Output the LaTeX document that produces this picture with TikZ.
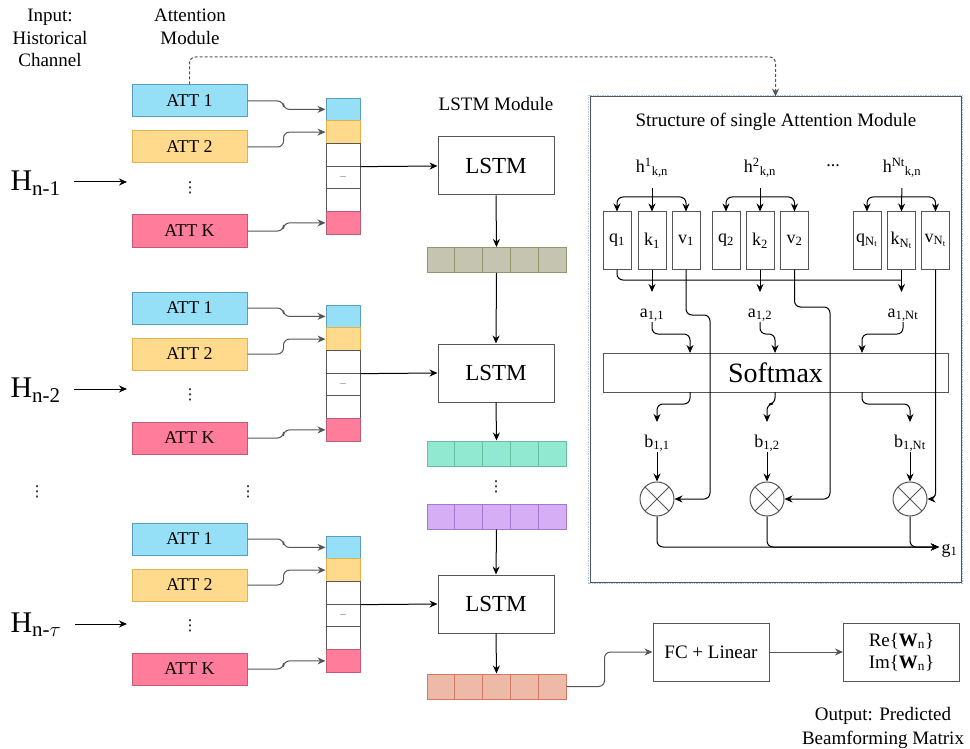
\documentclass[tikz,border=0pt]{standalone}
\usepackage{fontspec}
\setmainfont{Liberation Serif}
\newfontfamily\dotfont{DejaVu Sans}
\usetikzlibrary{arrows.meta}

\definecolor{attcyan}{RGB}{150,224,247}
\definecolor{attcyanb}{RGB}{90,160,190}
\definecolor{attyel}{RGB}{255,218,140}
\definecolor{attyelb}{RGB}{225,178,80}
\definecolor{attpink}{RGB}{255,125,155}
\definecolor{attpinkb}{RGB}{195,90,115}
\definecolor{vecolive}{RGB}{196,196,176}
\definecolor{vecoliveb}{RGB}{150,150,110}
\definecolor{vecgreen}{RGB}{145,233,210}
\definecolor{vecgreenb}{RGB}{105,190,160}
\definecolor{vecpurple}{RGB}{214,174,246}
\definecolor{vecpurpleb}{RGB}{165,120,205}
\definecolor{vecorange}{RGB}{238,186,168}
\definecolor{vecorangeb}{RGB}{215,120,100}
\definecolor{linegray}{RGB}{85,85,85}
\definecolor{selblue}{RGB}{160,200,240}

\begin{document}
\begin{tikzpicture}[x=1pt,y=-1pt,line width=1pt,
  att/.style={draw,minimum width=115pt,minimum height=32pt,inner sep=0pt,font=\fontsize{18}{20}\selectfont},
  cell/.style={draw=linegray,minimum width=34pt,minimum height=22.7pt,inner sep=0pt},
  vcell/.style={minimum width=27.8pt,minimum height=25pt,inner sep=0pt},
  box/.style={draw=linegray,minimum width=116pt,minimum height=58pt,inner sep=0pt},
  qkv/.style={draw=linegray,minimum width=28pt,minimum height=57pt,inner sep=0pt,font=\fontsize{18}{20}\selectfont},
  lab/.style={font=\fontsize{19}{22.5}\selectfont,align=center,inner sep=0pt},
  sml/.style={font=\fontsize{18}{20}\selectfont,inner sep=0pt},
  hlab/.style={font=\fontsize{30}{32}\selectfont,inner sep=0pt,anchor=base west},
  vdot/.style={font=\dotfont\fontsize{15}{16}\selectfont,inner sep=0pt},
  mul/.style={circle,draw=linegray,minimum size=34pt,inner sep=0pt,
    path picture={\draw[linegray] (path picture bounding box.north west) -- (path picture bounding box.south east)
      (path picture bounding box.north east) -- (path picture bounding box.south west);}},
  arr/.style={-{Stealth[length=8pt,width=7pt]}},
  rc/.style={rounded corners=6pt}]
\useasboundingbox (0,0) rectangle (970,749);

% Text Node
\node[lab] (inlbl) at (50,38) {Input:\\Historical\\Channel};
\node[lab] (attlbl) at (190,27) {Attention\\Module};
\node[lab] (lstmlbl) at (496,104) {LSTM Module};

%Block n-1
\node[att,fill=attcyan,draw=attcyanb] (a11) at (189.5,101) {ATT 1};
\node[att,fill=attyel,draw=attyelb] (a12) at (189.5,147) {ATT 2};
\node[vdot] (d1) at (190,188) {⋮};
\node[att,fill=attpink,draw=attpinkb] (a1k) at (189.5,231) {ATT K};
\node[cell,fill=attcyan,draw=attcyanb] (s11) at (343,109.4) {};
\node[cell,fill=attyel,draw=attyelb] (s12) at (343,132.1) {};
\node[cell] (s13) at (343,154.8) {};
\node[cell,font=\fontsize{8}{8}\selectfont] (s14) at (343,177.5) {...};
\node[cell] (s15) at (343,200.2) {};
\node[cell,fill=attpink,draw=attpinkb] (s16) at (343,222.9) {};
\draw[arr,rc,linegray] (a11.east) -- ++(36,0) |- (s11.west);
\draw[arr,rc,linegray] (a12.east) -- ++(36,0) |- (s12.west);
\draw[arr,rc,linegray] (a1k.east) -- ++(36,0) |- (s16.west);
\node[hlab] (h1) at (10,190.5) {H\textsubscript{n-1}};
\coordinate (in1) at (127,182);
\draw[arr,shorten <=13pt] (h1.east |- in1) -- (in1);
\node[box,font=\fontsize{23}{25}\selectfont] (l1) at (496,166) {LSTM};
\draw[arr] (s13.south east) -- (l1.west);

%Block n-2
\node[att,fill=attcyan,draw=attcyanb] (a21) at (189.5,308) {ATT 1};
\node[att,fill=attyel,draw=attyelb] (a22) at (189.5,354) {ATT 2};
\node[vdot] (d2) at (190,395) {⋮};
\node[att,fill=attpink,draw=attpinkb] (a2k) at (189.5,438) {ATT K};
\node[cell,fill=attcyan,draw=attcyanb] (s21) at (343,316.4) {};
\node[cell,fill=attyel,draw=attyelb] (s22) at (343,339.1) {};
\node[cell] (s23) at (343,361.8) {};
\node[cell,font=\fontsize{8}{8}\selectfont] (s24) at (343,384.5) {...};
\node[cell] (s25) at (343,407.2) {};
\node[cell,fill=attpink,draw=attpinkb] (s26) at (343,429.9) {};
\draw[arr,rc,linegray] (a21.east) -- ++(36,0) |- (s21.west);
\draw[arr,rc,linegray] (a22.east) -- ++(36,0) |- (s22.west);
\draw[arr,rc,linegray] (a2k.east) -- ++(36,0) |- (s26.west);
\node[hlab] (h2) at (10,397.5) {H\textsubscript{n-2}};
\coordinate (in2) at (127,389);
\draw[arr,shorten <=13pt] (h2.east |- in2) -- (in2);
\node[box,font=\fontsize{23}{25}\selectfont] (l2) at (496,373) {LSTM};
\draw[arr] (s23.south east) -- (l2.west);

% dots between blocks
\node[vdot] (dm1) at (37,492) {⋮};
\node[vdot] (dm2) at (248,492) {⋮};

%Block n-tau
\node[att,fill=attcyan,draw=attcyanb] (a31) at (189.5,539) {ATT 1};
\node[att,fill=attyel,draw=attyelb] (a32) at (189.5,585) {ATT 2};
\node[vdot] (d3) at (190,626) {⋮};
\node[att,fill=attpink,draw=attpinkb] (a3k) at (189.5,669) {ATT K};
\node[cell,fill=attcyan,draw=attcyanb] (s31) at (343,547.4) {};
\node[cell,fill=attyel,draw=attyelb] (s32) at (343,570.1) {};
\node[cell] (s33) at (343,592.8) {};
\node[cell,font=\fontsize{8}{8}\selectfont] (s34) at (343,615.5) {...};
\node[cell] (s35) at (343,638.2) {};
\node[cell,fill=attpink,draw=attpinkb] (s36) at (343,660.9) {};
\draw[arr,rc,linegray] (a31.east) -- ++(36,0) |- (s31.west);
\draw[arr,rc,linegray] (a32.east) -- ++(36,0) |- (s32.west);
\draw[arr,rc,linegray] (a3k.east) -- ++(36,0) |- (s36.west);
\node[hlab] (h3) at (10,632.5) {H\textsubscript{n-$\tau$}};
\coordinate (in3) at (127,624);
\draw[arr,shorten <=13pt] (h3.east |- in3) -- (in3);
\node[box,font=\fontsize{23}{25}\selectfont] (l3) at (496,604) {LSTM};
\draw[arr] (s33.south east) -- (l3.west);

%Hidden vectors
\foreach \i/\x in {1/440.9,2/468.7,3/496.5,4/524.3,5/552.1}{
  \node[vcell,fill=vecolive,draw=vecoliveb] (vo\i) at (\x,260) {};
  \node[vcell,fill=vecgreen,draw=vecgreenb] (vg\i) at (\x,453.5) {};
  \node[vcell,fill=vecpurple,draw=vecpurpleb] (vp\i) at (\x,516.5) {};
  \node[vcell,fill=vecorange,draw=vecorangeb] (vr\i) at (\x,686.5) {};
}
\node[vdot] (dv) at (496,487) {⋮};
\draw[arr] (l1.south) -- (vo3.north);
\draw[arr] (vo3.south) -- (l2.north);
\draw[arr] (l2.south) -- (vg3.north);
\draw[arr] (vp3.south) -- (l3.north);
\draw[arr] (l3.south) -- (vr3.north);

%Output part
\node[box,lab] (fc) at (711,652) {FC + Linear};
\node[box,lab,font=\fontsize{19}{22}\selectfont] (out) at (901.5,652) {Re\{\textbf{W}\textsubscript{n}\}\\Im\{\textbf{W}\textsubscript{n}\}};
\draw[arr,rc,linegray] (vr5.east) -- ++(38,0) |- (fc.west);
\draw[arr,linegray] (fc.east) -- (out.west);
\node[lab,font=\fontsize{19}{24}\selectfont] (outlbl) at (883,728) {Output: Predicted\\Beamforming Matrix};

%Shape: Rectangle (single attention module)
\node[draw=linegray,minimum width=371pt,minimum height=485pt,inner sep=0pt] (panel) at (775.5,339.5) {};
\draw[selblue,line width=0.7pt,densely dotted] (588.5,95.5) rectangle (962.5,583.5);
\coordinate (dbend) at (775.5,57);
\draw[arr,rc,linegray,dash pattern=on 3pt off 2pt] (a11.north) |- (dbend) -- (panel.north);
\node[lab] (ttl) at (776,122) {Structure of single Attention Module};

% h inputs
\node[sml,anchor=base] (hh1) at (652,173) {h\textsuperscript{1}\textsubscript{k,n}};
\node[sml,anchor=base] (hh2) at (760,173) {h\textsuperscript{2}\textsubscript{k,n}};
\node[sml] (hdots) at (833,166) {...};
\node[sml,anchor=base] (hh3) at (902,173) {h\textsuperscript{Nt}\textsubscript{k,n}};

% q k v
\node[qkv] (q1) at (617,240.5) {q\textsubscript{1}};
\node[qkv] (k1) at (652,240.5) {k\textsubscript{1}};
\node[qkv] (v1) at (686,240.5) {v\textsubscript{1}};
\node[qkv] (q2) at (726,240.5) {q\textsubscript{2}};
\node[qkv] (k2) at (760,240.5) {k\textsubscript{2}};
\node[qkv] (v2) at (794.5,240.5) {v\textsubscript{2}};
\node[qkv] (q3) at (867,240.5) {q\textsubscript{N\textsubscript{t}}};
\node[qkv] (k3) at (901.5,240.5) {k\textsubscript{N\textsubscript{t}}};
\node[qkv] (v3) at (935.5,240.5) {v\textsubscript{N\textsubscript{t}}};

\coordinate (hb1) at (652,197);
\coordinate (hb2) at (760,197);
\coordinate (hb3) at (901.5,197);
\draw[arr,shorten <=10pt] (hh1.south) -- (k1.north);
\draw[arr,rc] (hb1) -| (q1.north);
\draw[arr,rc] (hb1) -| (v1.north);
\draw[arr,shorten <=10pt] (hh2.south) -- (k2.north);
\draw[arr,rc] (hb2) -| (q2.north);
\draw[arr,rc] (hb2) -| (v2.north);
\draw[arr,shorten <=10pt] (hh3.south) -- (k3.north);
\draw[arr,rc] (hb3) -| (q3.north);
\draw[arr,rc] (hb3) -| (v3.north);

% q1 with every k
\coordinate (qln) at (901.5,280);
\draw[rc] (q1.south) |- (qln);
\coordinate (ka1) at (652,292);
\coordinate (ka2) at (760,292);
\coordinate (ka3) at (901.5,292);
\draw[arr] (k1.south) -- (ka1);
\draw[arr] (k2.south) -- (ka2);
\draw[arr] (k3.south) -- (ka3);

% scores
\node[sml,anchor=base] (aa1) at (652,317) {a\textsubscript{1,1}};
\node[sml,anchor=base] (aa2) at (760,317) {a\textsubscript{1,2}};
\node[sml,anchor=base] (aa3) at (903,317) {a\textsubscript{1,Nt}};
\node[draw=linegray,minimum width=345pt,minimum height=39pt,inner sep=0pt,font=\fontsize{28}{30}\selectfont] (smx) at (775.5,372.5) {Softmax};
\coordinate (si1) at (690,353);
\coordinate (si2) at (775,353);
\coordinate (si3) at (862,353);
\draw[arr,rc] (aa1.south) -- ++(0,12) -| (si1);
\draw[arr,rc] (aa2.south) -- ++(0,12) -| (si2);
\draw[arr,rc] (aa3.south) -- ++(0,12) -| (si3);

% weights
\node[sml,anchor=base] (bb1) at (657,447) {b\textsubscript{1,1}};
\node[sml,anchor=base] (bb2) at (767,447) {b\textsubscript{1,2}};
\node[sml,anchor=base] (bb3) at (910,447) {b\textsubscript{1,Nt}};
\coordinate (so1) at (690,392);
\coordinate (so2) at (775,392);
\coordinate (so3) at (862,392);
\coordinate (bt1) at (657,422);
\coordinate (bt2) at (767,422);
\coordinate (bt3) at (910,422);
\draw[arr,rc] (so1) -- ++(0,12) -| (bt1);
\draw[arr,rc] (so2) -- ++(0,12) -| (bt2);
\draw[arr,rc] (so3) -- ++(0,12) -| (bt3);

% products
\node[mul] (m1) at (657,499) {};
\node[mul] (m2) at (767,499) {};
\node[mul] (m3) at (910,499) {};
\draw[arr] (bb1.south) -- (m1.north);
\draw[arr] (bb2.south) -- (m2.north);
\draw[arr] (bb3.south) -- (m3.north);
\coordinate (vb1) at (710,315);
\coordinate (vb2) at (830,307);
\draw[arr,rc] (v1.south) |- (vb1) |- (m1.east);
\draw[arr,rc] (v2.south) |- (vb2) |- (m2.east);
\draw[arr,rc] (v3.south) |- (m3.east);

% sum
\node[sml,anchor=base west] (g1) at (941,553) {g\textsubscript{1}};
\coordinate (gin) at (939,547);
\draw[arr,rc] (m1.south) |- (gin);
\draw[arr,rc] (m2.south) |- (gin);
\draw[arr,rc] (m3.south) |- (gin);

\end{tikzpicture}
\end{document}
